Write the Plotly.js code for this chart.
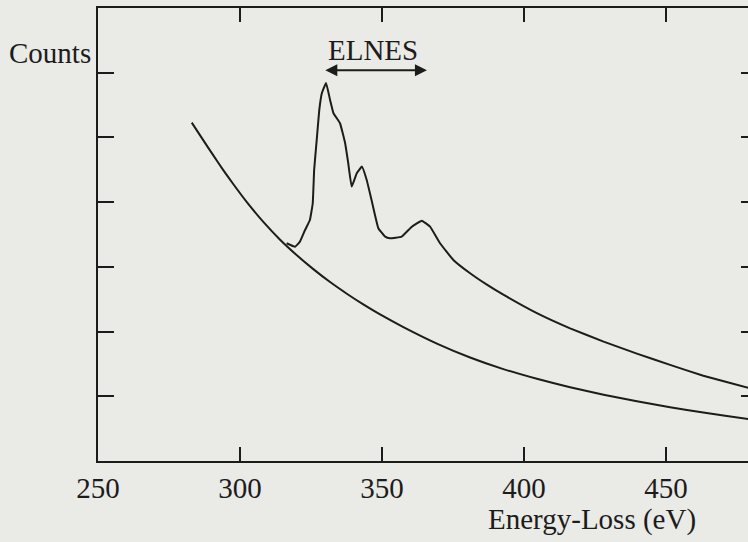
<!DOCTYPE html>
<html>
<head>
<meta charset="utf-8">
<script src="https://cdn.plot.ly/plotly-3.0.1.min.js"></script>
<style>
html,body{margin:0;padding:0;overflow:hidden;background:#eaeae6;}
#chart{width:780px;height:542px;}
</style>
</head>
<body>
<div id="chart"></div>
<script>
// Energy-loss (eV) and counts (arbitrary units)
const backgroundE = [283.0, 287.1, 290.6, 294.1, 297.6, 302.4, 308.2, 314.1, 320.0, 325.8, 331.7, 337.6, 343.4, 349.3, 357.5, 369.3, 381.0, 392.7, 404.5, 416.2, 428.0, 439.7, 451.4, 463.1, 478.9, 482.0];
const backgroundCounts = [5.229, 4.955, 4.722, 4.495, 4.280, 4.000, 3.695, 3.420, 3.180, 2.965, 2.765, 2.585, 2.420, 2.265, 2.070, 1.815, 1.600, 1.420, 1.270, 1.140, 1.025, 0.922, 0.830, 0.748, 0.650, 0.632];

const spectrumE = [316.4, 319.4, 321.1, 322.9, 324.6, 325.6, 326.1, 327.0, 327.9, 328.8, 330.3, 331.7, 332.9, 335.2, 337.0, 338.1, 339.3, 341.1, 342.9, 344.6, 346.3, 348.7, 351.1, 352.8, 356.9, 360.5, 364.0, 366.9, 370.4, 375.1, 381.0, 386.9, 392.7, 404.5, 416.2, 428.0, 439.7, 451.4, 463.1, 478.9, 482.0];
const spectrumCounts = [3.365, 3.312, 3.389, 3.570, 3.725, 3.983, 4.498, 4.961, 5.425, 5.683, 5.842, 5.580, 5.374, 5.219, 4.910, 4.601, 4.240, 4.447, 4.549, 4.343, 4.034, 3.597, 3.467, 3.442, 3.467, 3.621, 3.714, 3.621, 3.365, 3.107, 2.901, 2.725, 2.570, 2.285, 2.050, 1.845, 1.660, 1.485, 1.318, 1.130, 1.096];

const xTicks = [250, 300, 350, 400, 450];
const xTickLabels = ['250', '300', '350', '400', '450'];
const yTicks = [0, 1, 2, 3, 4, 5, 6, 7];

const elnesStart = 329.5;
const elnesEnd = 365.8;
const elnesLevel = 6.04;

const ink = '#1c1c1c';
const serif = 'Liberation Serif, Times New Roman, serif';

const traces = [
  {x: backgroundE, y: backgroundCounts, mode: 'lines', line: {color: ink, width: 2, shape: 'spline', smoothing: 0.6}, hoverinfo: 'skip'},
  {x: spectrumE, y: spectrumCounts, mode: 'lines', line: {color: ink, width: 2, shape: 'spline', smoothing: 0.3}, hoverinfo: 'skip'}
];

const layout = {
  width: 780, height: 542,
  margin: {l: 98, r: 23, t: 8, b: 81},
  paper_bgcolor: '#eaeae6', plot_bgcolor: '#eaeae6',
  showlegend: false,
  font: {family: serif, color: ink, size: 29},
  xaxis: {
    range: [250, 482], tickvals: xTicks, ticktext: xTickLabels,
    ticks: 'inside', ticklen: 14, tickwidth: 2, tickcolor: ink,
    showline: true, linecolor: ink, linewidth: 2, mirror: 'ticks',
    showgrid: false, zeroline: false,
    tickfont: {family: serif, size: 29, color: ink}
  },
  yaxis: {
    range: [0, 7], tickvals: yTicks, showticklabels: false,
    ticks: 'inside', ticklen: 16, tickwidth: 2, tickcolor: ink,
    showline: true, linecolor: ink, linewidth: 2, mirror: 'ticks',
    showgrid: false, zeroline: false
  },
  annotations: [
    {text: 'Counts', xref: 'paper', yref: 'paper', x: 0, y: 0.9007, xanchor: 'right', yanchor: 'middle', xshift: -5, showarrow: false, font: {family: serif, size: 29, color: ink}},
    {text: 'Energy-Loss (eV)', xref: 'paper', yref: 'paper', x: 0.75, y: 0, xanchor: 'center', yanchor: 'middle', yshift: -58, showarrow: false, font: {family: serif, size: 29, color: ink}},
    {text: 'ELNES', xref: 'x', yref: 'y', x: 346.8, y: 6.35, xanchor: 'center', yanchor: 'middle', showarrow: false, font: {family: serif, size: 29, color: ink}},
    {text: '', xref: 'x', yref: 'y', x: elnesEnd, y: elnesLevel, axref: 'x', ayref: 'y', ax: elnesStart, ay: elnesLevel, showarrow: true, arrowside: 'end+start', arrowhead: 2, arrowsize: 1.2, arrowwidth: 2, arrowcolor: ink, standoff: 0, startstandoff: 0}
  ]
};

Plotly.newPlot('chart', traces, layout, {staticPlot: true, displayModeBar: false});
</script>
</body>
</html>
